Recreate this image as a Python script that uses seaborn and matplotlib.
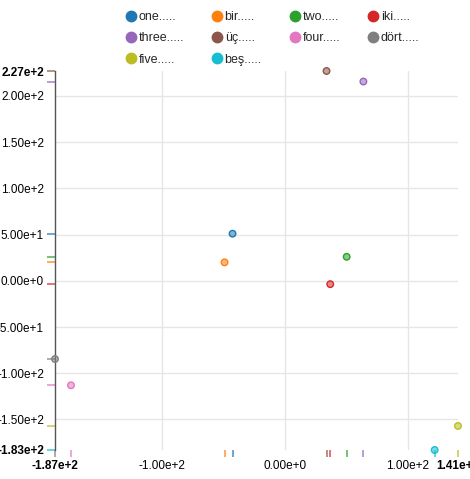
import matplotlib
matplotlib.use("Agg")
import matplotlib.pyplot as plt
import seaborn as sns
import pandas as pd
from matplotlib.lines import Line2D

names = ["one.....", "bir.....", "two.....", "iki.....", "three.....",
         "üç.....", "four.....", "dört.....", "five.....", "beş....."]
x_vals = [-42.5, -49.0, 50.4, 37.0, 64.0, 34.0, -174.0, -187.0, 141.0, 122.0]
y_vals = [51.0, 20.0, 26.0, -3.6, 215.6, 227.0, -113.0, -84.6, -157.0, -183.0]
x_ticks = [-187, -100, 0, 100, 141]
y_ticks = [-183, -150, -100, -50, 0, 50, 100, 150, 200, 227]

colors = sns.color_palette("tab10", 10)
palette = dict(zip(names, colors))
df = pd.DataFrame({"name": names, "x": x_vals, "y": y_vals})

sns.set_style("white")
plt.rcParams["font.family"] = ["Liberation Sans", "DejaVu Sans"]

fig = plt.figure(figsize=(4.70, 4.79), dpi=100)
W, H = 470, 479
L, R, T, B = 55, 458, 71, 450
ax = fig.add_axes([L / W, (H - B) / H, (R - L) / W, (B - T) / H])

sns.scatterplot(data=df, x="x", y="y", hue="name", palette=palette, s=22,
                ax=ax, legend=False, zorder=3, clip_on=False)
coll = ax.collections[0]
fc = coll.get_facecolors().copy()
coll.set_edgecolors(fc.copy())
coll.set_linewidths(1.0)
fc[:, 3] = 0.55
coll.set_facecolors(fc)

sns.rugplot(data=df, x="x", hue="name", palette=palette, height=-0.018,
            clip_on=False, alpha=0.7, linewidth=1.3, ax=ax, legend=False)
sns.rugplot(data=df, y="y", hue="name", palette=palette, height=-0.02,
            clip_on=False, alpha=0.7, linewidth=1.3, ax=ax, legend=False)

ax.set_xlim(min(x_vals), max(x_vals))
ax.set_ylim(min(y_vals), max(y_vals))


def fmt(v):
    s = f"{v:.2e}"
    mant, exp = s.split("e")
    sign = exp[0]
    e = str(int(exp[1:]))
    return f"{mant}e{sign}{e}"


ax.set_xticks(x_ticks)
ax.set_xticklabels([fmt(v) for v in x_ticks])
ax.set_yticks(y_ticks)
ax.set_yticklabels([fmt(v) for v in y_ticks])
ax.tick_params(axis="x", length=0, pad=7, labelsize=8.5, colors="#000000")
ax.tick_params(axis="y", length=0, pad=8, labelsize=8.5, colors="#000000")

for lab in [ax.get_xticklabels()[0], ax.get_xticklabels()[-1],
            ax.get_yticklabels()[0], ax.get_yticklabels()[-1]]:
    lab.set_fontweight("bold")

ax.set_xlabel("")
ax.set_ylabel("")
ax.grid(True, color="#e6e6e6", linewidth=1)
ax.set_axisbelow(True)
xt = ax.xaxis.get_major_ticks()
yt = ax.yaxis.get_major_ticks()
for t in (xt[0], xt[-1], yt[0], yt[-1]):
    t.gridline.set_visible(False)
yt[-1].tick1line.set_markersize(6)
yt[-1].tick1line.set_color("#555555")

for s in ["top", "right", "bottom"]:
    ax.spines[s].set_visible(False)
ax.spines["left"].set_color("#555555")
ax.spines["left"].set_linewidth(1)

order = [0, 4, 8, 1, 5, 9, 2, 6, 3, 7]
handles = [Line2D([], [], marker="o", linestyle="", markersize=7.5,
                  markerfacecolor=colors[i], markeredgecolor=colors[i])
           for i in order]
labels = [names[i] for i in order]
fig.legend(handles, labels, ncol=4, loc="upper left",
           bbox_to_anchor=(118.5 / W, 1 - 6 / H), frameon=False,
           fontsize=9, handletextpad=0.0, columnspacing=2.05,
           labelspacing=0.75, handlelength=1.2, borderaxespad=0)

fig.savefig("out.png", dpi=100)
